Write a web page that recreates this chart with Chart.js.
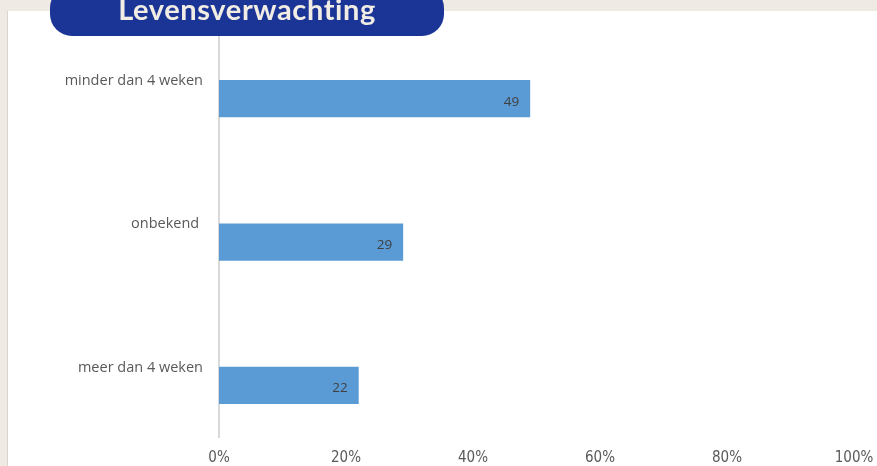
<!DOCTYPE html>
<html>
<head>
<meta charset="utf-8">
<script src="https://cdn.jsdelivr.net/npm/chart.js@4"></script>
<style>
  html, body { margin: 0; padding: 0; }
  body { width: 877px; height: 466px; background: #EFEAE3; position: relative; overflow: hidden; }
  #panel { position: absolute; left: 7px; top: 11px; width: 870px; height: 455px; background: #fff; border-left: 1px solid #D9D6D1; box-sizing: border-box; }
  #wrap { position: absolute; left: 0; top: 0; width: 877px; height: 466px; }
  #title { position: absolute; left: 50px; top: -14px; width: 394px; height: 50px; border-radius: 22px; background: #1A3596;
           color: #F1ECE4; font: bold 29px Lato, "Open Sans", sans-serif; text-align: center; line-height: 46px; letter-spacing: 0.6px; }
</style>
</head>
<body>
<div id="panel"></div>
<div id="wrap"><canvas id="c" width="877" height="466"></canvas></div>
<div id="title">Levensverwachting</div>
<script>
// Levensverwachting: share of responses per category (percent)
const categories = ['minder dan 4 weken', 'onbekend ', 'meer dan 4 weken'];
const percentages = [49, 29, 22];
const xTicks = [0, 20, 40, 60, 80, 100];

const barColor = '#5B9BD5';
const textColor = '#595959';

// value labels drawn just inside the end of each bar
const valueLabels = {
  id: 'valueLabels',
  afterDatasetsDraw(chart) {
    const ctx = chart.ctx;
    const meta = chart.getDatasetMeta(0);
    ctx.save();
    ctx.font = '13.5px "Open Sans", sans-serif';
    ctx.fillStyle = '#404040';
    ctx.textAlign = 'right';
    ctx.textBaseline = 'middle';
    meta.data.forEach((bar, i) => {
      ctx.fillText(String(percentages[i]), bar.x - 11, bar.y + 3);
    });
    ctx.restore();
  }
};

new Chart(document.getElementById('c'), {
  type: 'bar',
  data: {
    datasets: [{
      data: percentages.map((v, i) => ({ x: v, y: i })),
      backgroundColor: barColor,
      borderWidth: 0,
      categoryPercentage: 1,
      barPercentage: 0.26
    }]
  },
  options: {
    indexAxis: 'y',
    responsive: false,
    animation: false,
    layout: { padding: { left: 8, top: 27, right: 0, bottom: -13 } },
    plugins: { legend: { display: false }, tooltip: { enabled: false } },
    scales: {
      x: {
        type: 'linear',
        min: 0, max: 100,
        afterBuildTicks(scale) { scale.ticks = xTicks.map(v => ({ value: v })); },
        afterFit(scale) { scale.paddingRight = 23; },
        grid: { display: false, drawTicks: false },
        border: { display: false },
        ticks: {
          color: textColor,
          font: { family: '"Liberation Sans Narrow", "DejaVu Sans Condensed", sans-serif', size: 15 },
          padding: 12,
          callback: v => v + '%'
        }
      },
      y: {
        type: 'linear',
        reverse: true,
        offset: false,
        min: -0.5, max: 2.36,
        afterBuildTicks(scale) { scale.ticks = categories.map((c, i) => ({ value: i })); },
        afterFit(scale) { scale.width = 211; },
        grid: { display: false, drawTicks: false },
        border: { display: true, color: '#D9D9D9', width: 2 },
        ticks: {
          color: textColor,
          font: { family: '"Open Sans", sans-serif', size: 14.5 },
          padding: 16,
          labelOffset: -18,
          callback: v => categories[v]
        }
      }
    }
  },
  plugins: [valueLabels]
});
</script>
</body>
</html>
